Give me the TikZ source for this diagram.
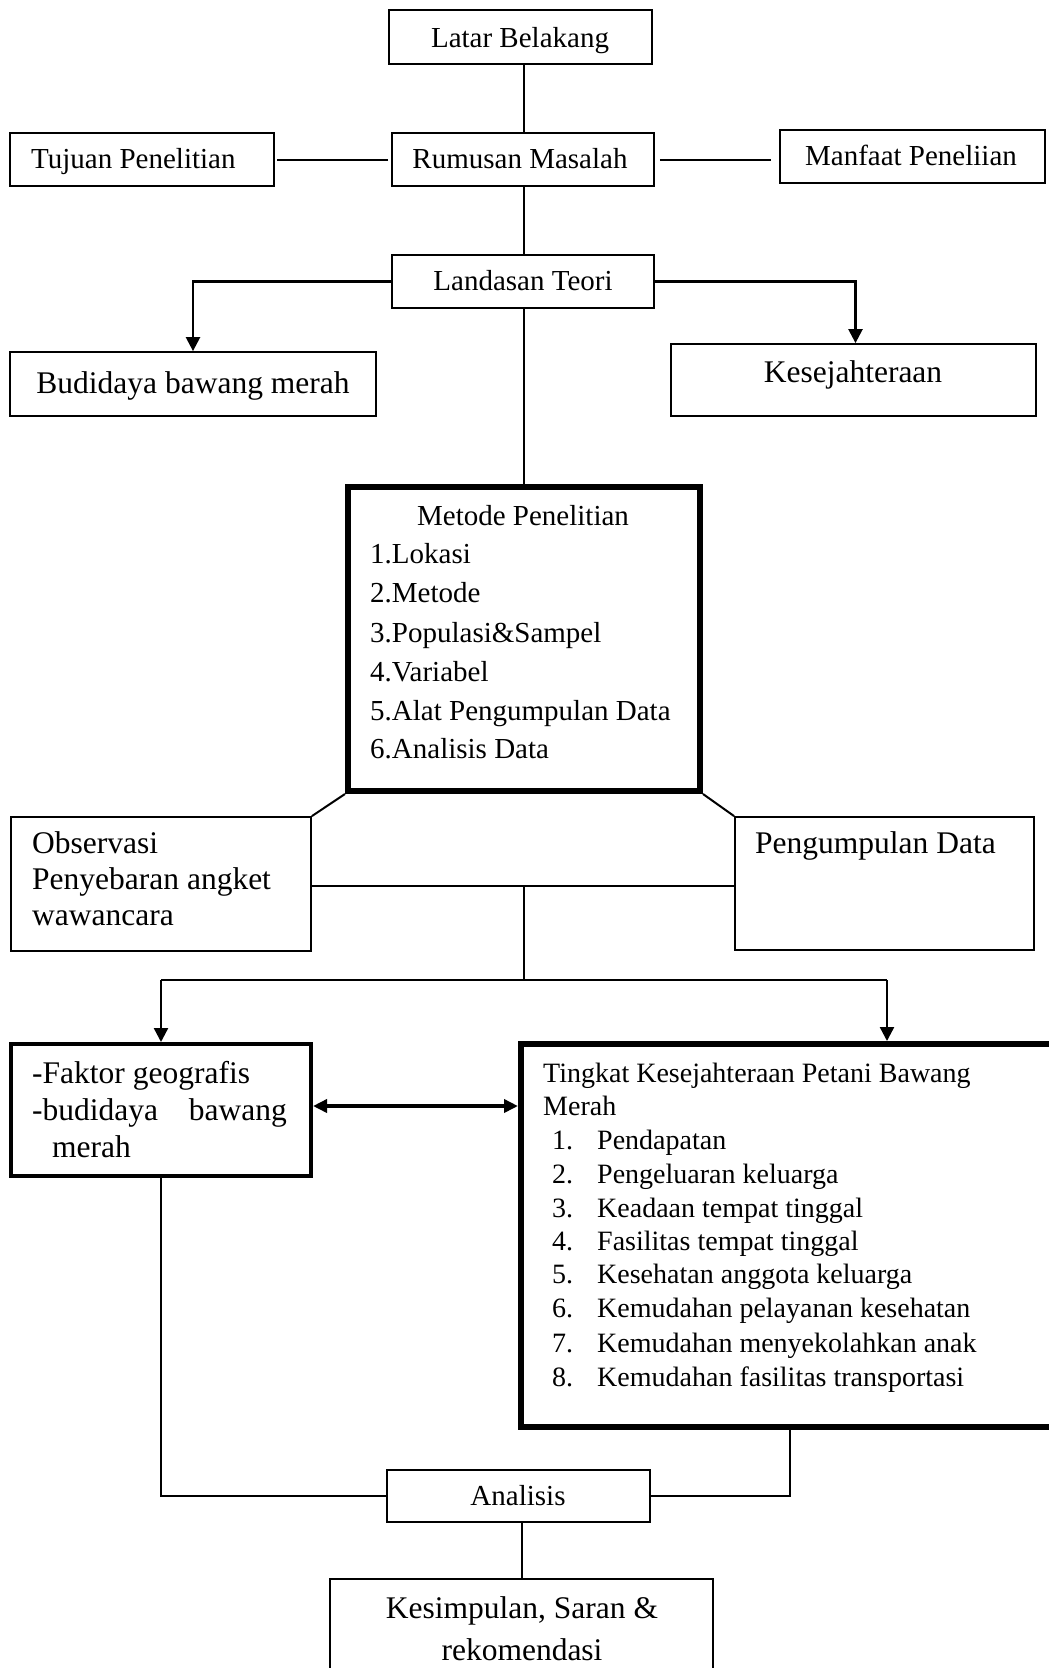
\documentclass[tikz,border=0pt]{standalone}
\usepackage{fontspec}
\setmainfont{Liberation Serif}
\usetikzlibrary{arrows.meta}
\newcommand\fsA{\fontsize{29}{34}\selectfont}
\newcommand\fsB{\fontsize{31.5}{37}\selectfont}
\newcommand\fsC{\fontsize{28}{33}\selectfont}
\begin{document}
\begin{tikzpicture}[x=1pt,y=-1pt,
  box/.style={draw, line width=1.8pt, inner sep=0pt, rectangle},
  thickbox/.style={draw, line width=6pt, inner sep=0pt, rectangle},
  midbox/.style={draw, line width=4pt, inner sep=0pt, rectangle},
  conn/.style={line width=2pt},
  arr/.style={line width=2.4pt, -{Triangle[length=14pt,width=14pt]}},
  dblarr/.style={line width=4pt, {Triangle[length=14pt,width=13pt]}-{Triangle[length=14pt,width=13pt]}},
  tA/.style={inner sep=0pt, font=\fsA},
  tB/.style={inner sep=0pt, font=\fsB},
  tC/.style={inner sep=0pt, font=\fsC}]
\clip (0,0) rectangle (1049,1668);
\fill[white] (0,0) rectangle (1049,1668);

% boxes
\node[box, minimum width=263pt, minimum height=54pt] (latar) at (520.5,37) {};
\node[box, minimum width=262pt, minimum height=53pt] (rumusan) at (523,159.5) {};
\node[box, minimum width=264pt, minimum height=53pt] (tujuan) at (142,159.5) {};
\node[box, minimum width=265pt, minimum height=53pt] (manfaat) at (912.5,156.5) {};
\node[box, minimum width=262pt, minimum height=53pt] (landasan) at (523,281.5) {};
\node[box, minimum width=366pt, minimum height=64pt] (budidaya) at (193,384) {};
\node[box, minimum width=365pt, minimum height=72pt] (kesejah) at (853.5,380) {};
\node[thickbox, minimum width=352pt, minimum height=304pt] (metode) at (524,639) {};
\node[box, minimum width=300pt, minimum height=134pt] (observasi) at (161,884) {};
\node[box, minimum width=299pt, minimum height=133pt] (pengumpulan) at (884.5,883.5) {};
\node[midbox, minimum width=300pt, minimum height=132pt] (faktor) at (161,1110) {};
\node[thickbox, minimum width=549pt, minimum height=383pt] (tingkat) at (795.5,1235.5) {};
\node[box, minimum width=263pt, minimum height=52pt] (analisis) at (518.5,1496) {};
\node[box, minimum width=383pt, minimum height=141pt] (kesimpulan) at (521.5,1649.5) {};

% texts
\node[tA, anchor=base] (tlatar) at (520,47) {Latar Belakang};
\node[tA, anchor=base] (trumusan) at (520,168) {Rumusan Masalah};
\node[tA, anchor=base west] (ttujuan) at (31,168) {Tujuan Penelitian};
\node[tA, anchor=base] (tmanfaat) at (911,165) {Manfaat Peneliian};
\node[tA, anchor=base] (tlandasan) at (523,290) {Landasan Teori};
\node[tB, anchor=base] (tbudidaya) at (193,393) {Budidaya bawang merah};
\node[tB, anchor=base] (tkesejah) at (853,382) {Kesejahteraan};

\node[tA, anchor=base] (tmetode) at (523,525) {Metode Penelitian};
\node[tA, anchor=base west] (tm1) at (370,563) {1.Lokasi};
\node[tA, anchor=base west] (tm2) at (370,602) {2.Metode};
\node[tA, anchor=base west] (tm3) at (370,642) {3.Populasi\&Sampel};
\node[tA, anchor=base west] (tm4) at (370,681) {4.Variabel};
\node[tA, anchor=base west] (tm5) at (370,720) {5.Alat Pengumpulan Data};
\node[tA, anchor=base west] (tm6) at (370,758) {6.Analisis Data};

\node[tB, anchor=base west] (to1) at (32,853) {Observasi};
\node[tB, anchor=base west] (to2) at (32,889) {Penyebaran angket};
\node[tB, anchor=base west] (to3) at (32,925) {wawancara};
\node[tB, anchor=base west] (tpeng) at (755,853) {Pengumpulan Data};

\node[tB, anchor=base west] (tf1) at (32,1083) {-Faktor geografis};
\node[tB, anchor=base west] (tf2) at (32,1120) {-budidaya};
\node[tB, anchor=base east] (tf3) at (287,1120) {bawang};
\node[tB, anchor=base west] (tf4) at (52,1157) {merah};

\node[tC, anchor=base west] (tt1) at (543,1082) {Tingkat Kesejahteraan Petani Bawang};
\node[tC, anchor=base west] (tt2) at (543,1115) {Merah};
\foreach \n/\yy/\t in {1/1149/Pendapatan, 2/1183/Pengeluaran keluarga, 3/1217/Keadaan tempat tinggal, 4/1250/Fasilitas tempat tinggal, 5/1283/Kesehatan anggota keluarga, 6/1317/Kemudahan pelayanan kesehatan, 7/1352/Kemudahan menyekolahkan anak, 8/1386/Kemudahan fasilitas transportasi}{
  \node[tC, anchor=base west] (tn\n) at (552,\yy) {\n.};
  \node[tC, anchor=base west] (ti\n) at (597,\yy) {\t};
}

\node[tA, anchor=base] (tanalisis) at (518,1505) {Analisis};
\node[tB, anchor=base] (tk1) at (522,1618) {Kesimpulan, Saran \&};
\node[tB, anchor=base] (tk2) at (522,1660) {rekomendasi};

% connectors
\draw[conn] (latar.south -| metode.north) -- (rumusan.north -| metode.north);
\draw[conn] (rumusan.south -| metode.north) -- (landasan.north -| metode.north);
\draw[conn, shorten <=3pt, shorten >=2pt] (rumusan.west) -- (tujuan.east);
\draw[conn, shorten <=5pt, shorten >=8pt] (rumusan.east) -- (rumusan.east -| manfaat.west);
\draw[arr] (landasan.west) -- (budidaya.north |- landasan.west) -- (budidaya.north);
\draw[arr] (landasan.east) -- ([xshift=2pt]kesejah.north |- landasan.east) -- ([xshift=2pt]kesejah.north);
\draw[conn] (landasan.south -| metode.north) -- (metode.north);
\draw[conn] (metode.south west) -- (observasi.north east);
\draw[conn] (metode.south east) -- (pengumpulan.north west);
\coordinate (j1) at (524,886);
\coordinate (j2) at (524,980);
\draw[conn] (observasi.east |- j1) -- (pengumpulan.west |- j1);
\draw[conn] (j1) -- (j2);
\draw[conn] (j2) -- (faktor.north |- j2);
\draw[conn] (j2) -- ([xshift=369pt]tingkat.north west |- j2);
\draw[arr] (faktor.north |- j2) -- (faktor.north);
\draw[arr] ([xshift=369pt]tingkat.north west |- j2) -- ([xshift=369pt]tingkat.north west);
\draw[dblarr] (faktor.east |- 0,1106) -- (tingkat.west |- 0,1106);
\draw[conn] (faktor.south) |- (analisis.west);
\draw[conn] ([xshift=272pt]tingkat.south west) |- (analisis.east);
\draw[conn] (kesimpulan.north |- analisis.south) -- (kesimpulan.north);
\end{tikzpicture}
\end{document}
